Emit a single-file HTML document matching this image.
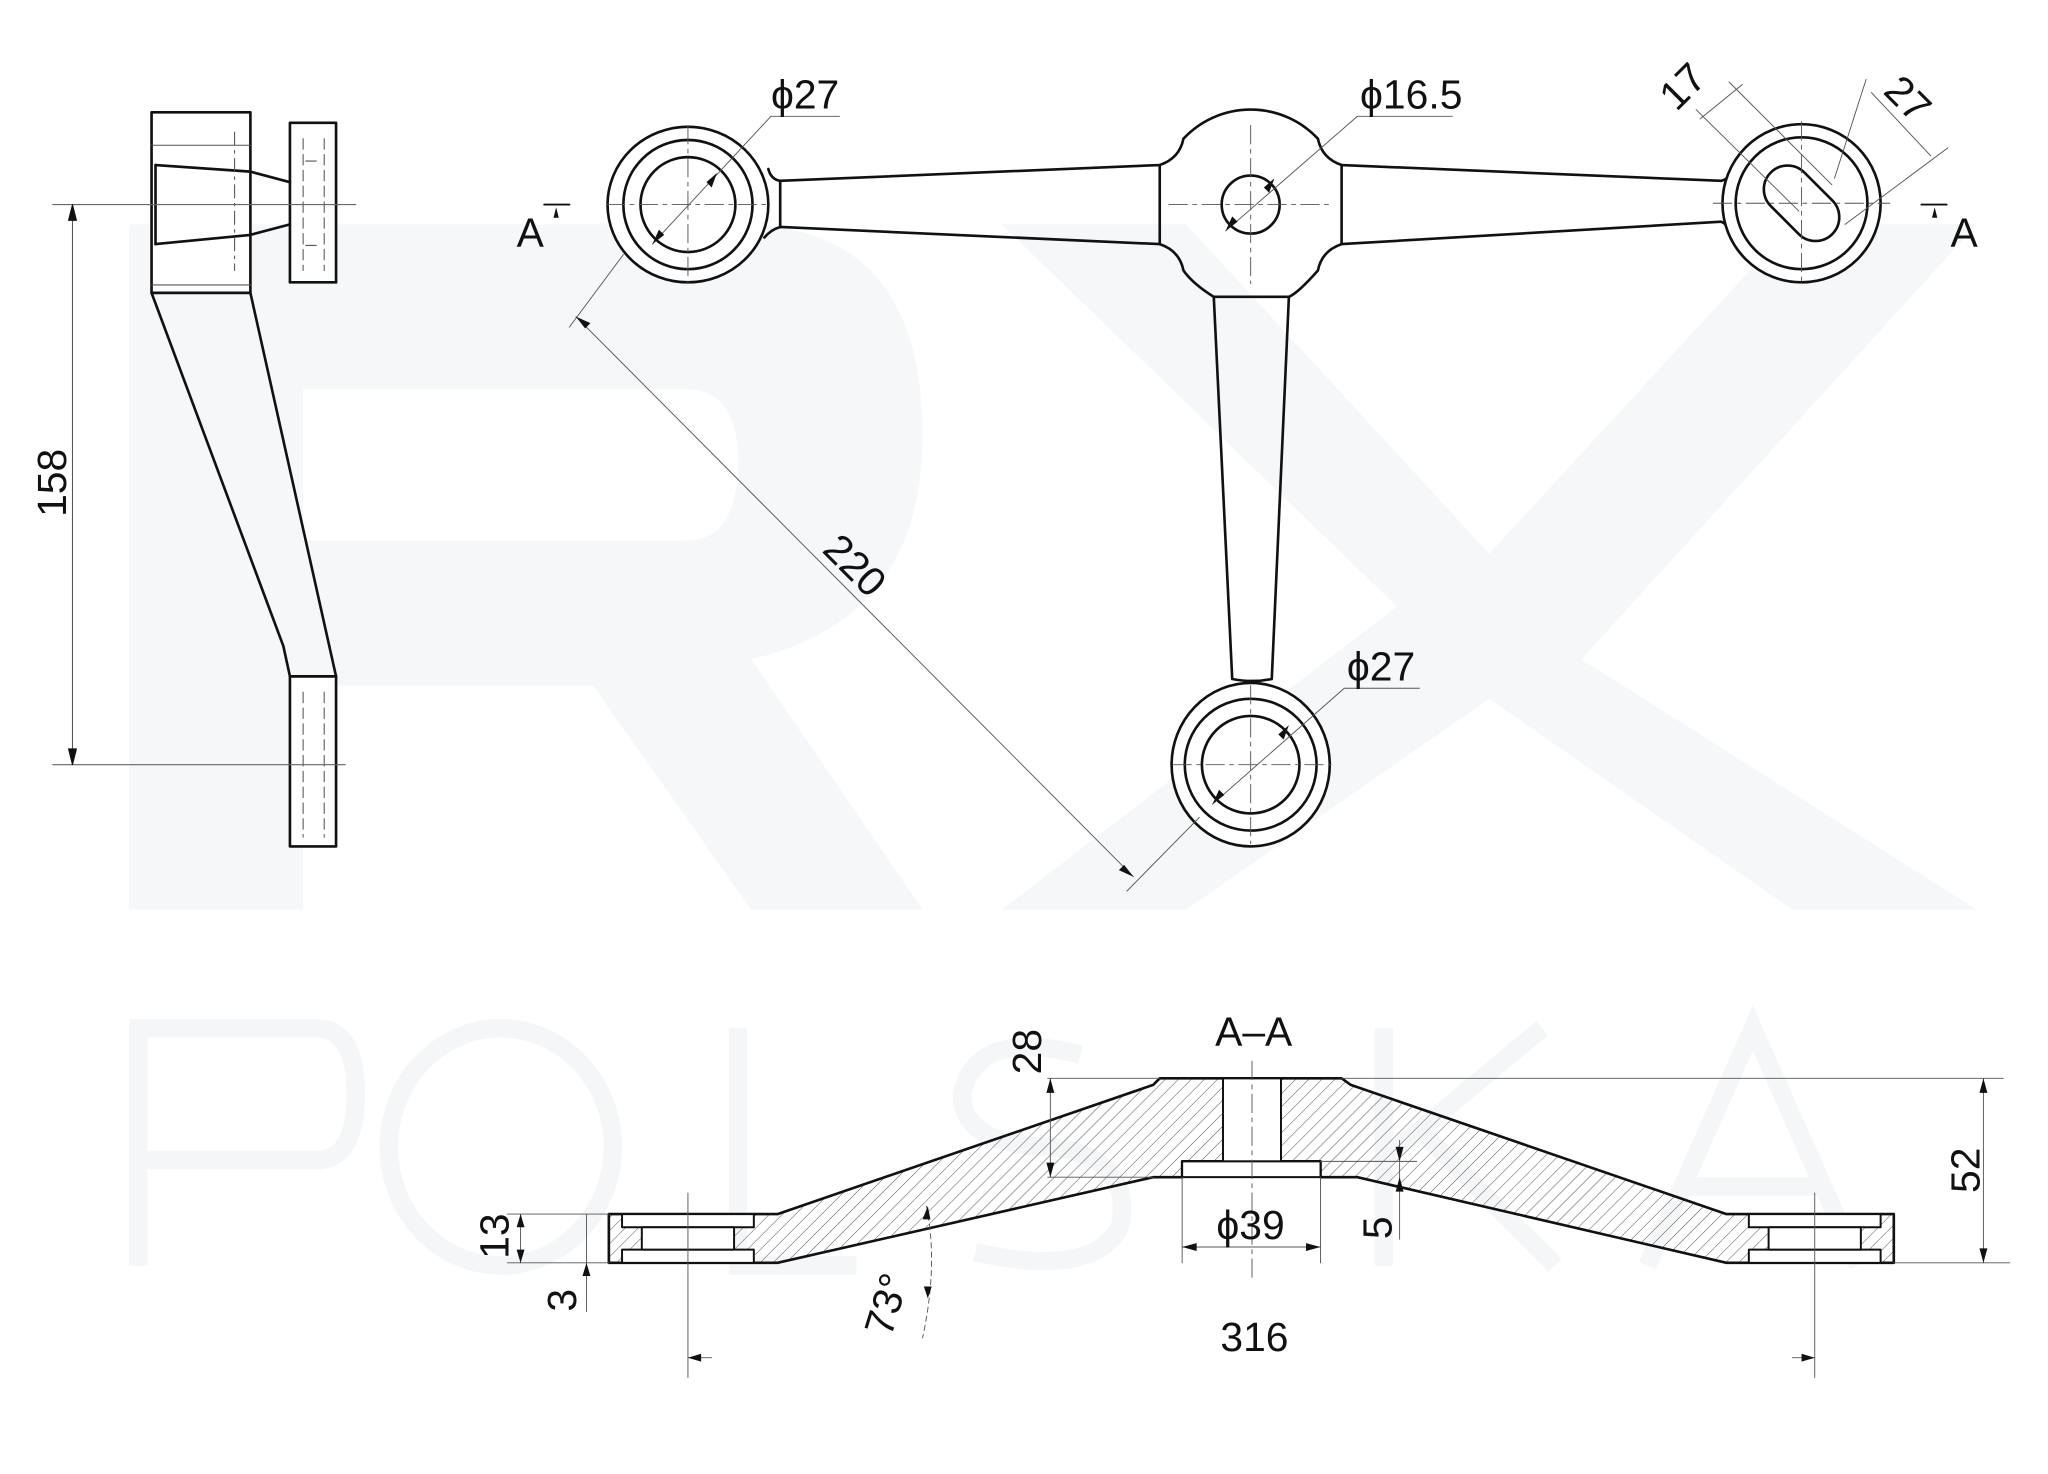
<!DOCTYPE html>
<html><head><meta charset="utf-8"><style>
html,body{margin:0;padding:0;background:#fff;}
svg{display:block;}
text{font-family:"Liberation Sans",sans-serif;fill:#111;}
</style></head><body>
<svg width="2048" height="1474" viewBox="0 0 1554 1118" xmlns="http://www.w3.org/2000/svg">
<defs>
<pattern id="h" patternUnits="userSpaceOnUse" width="7" height="7" patternTransform="rotate(45)">
<line x1="0" y1="0" x2="0" y2="7" stroke="#444" stroke-width="0.7"/>
</pattern>
</defs>
<!-- watermark -->
<g fill="#f6f7f9">
<path d="M98,170 L560,170 Q700,170 700,330 Q700,470 570,500 L700,690 L570,690 L450,520 L230,520 L230,690 L98,690 Z M230,295 L230,410 L520,410 Q560,410 560,350 Q560,295 520,295 Z"/>
<path d="M760,170 L900,170 L1130,420 L1360,170 L1500,170 L1200,500 L1500,690 L1360,690 L1130,530 L900,690 L760,690 L1060,460 Z"/>
</g>
<g fill="none" stroke="#f5f6f8" stroke-width="14">
<path d="M105,960 L105,780 L240,780 Q270,780 270,830 Q270,880 240,880 L105,880"/>
<ellipse cx="380" cy="870" rx="85" ry="90"/>
<path d="M560,780 L560,960 L650,960"/>
<path d="M820,800 Q740,780 730,830 Q730,870 800,870 Q860,880 850,930 Q830,970 740,950"/>
<path d="M1050,780 L1050,960 M1050,880 L1170,780 M1080,860 L1180,960"/>
<path d="M1250,960 L1330,780 L1410,960 M1280,900 L1380,900"/>
</g>

<g stroke="#111" fill="none" stroke-linecap="round" stroke-linejoin="round">
<!-- ===== side view ===== -->
<g stroke-width="2">
<rect x="115" y="85" width="75" height="137" fill="#fff"/>
<rect x="220" y="93" width="35" height="121" fill="#fff"/>
<path d="M115,222 L215,490 L220,513 M190,222 L255,513"/>
<rect x="220" y="513" width="35" height="129" fill="#fff"/>
<path d="M118,125 L190,130 L220,138 M118,185 L190,178 L220,170"/>
<line x1="118" y1="125" x2="118" y2="185"/>
</g>
<g stroke-width="0.8" stroke="#555">
<line x1="115" y1="110" x2="190" y2="110"/><line x1="115" y1="216" x2="190" y2="216"/>
<path d="M178,100 L178,205" stroke-dasharray="10 4 2 4"/>
<path d="M230,105 L230,205 M246,105 L246,205 M232,122 L244,122 M232,186 L244,186" stroke-dasharray="8 4"/>
<path d="M230,525 L230,635 M246,525 L246,635" stroke-dasharray="8 4"/>
<path d="M40,155 L270,155 M40,580 L262,580" stroke="#666"/>
<line x1="55" y1="155" x2="55" y2="580"/>
</g>
<path d="M55,155 l-3,12 l6,0 Z M55,580 l-3,-12 l6,0 Z" fill="#111" stroke-width="0.8"/>

<!-- ===== top view ===== -->
<g stroke-width="2">
<path d="M592,137 L880,125 Q895,120 898,105 A70,70 0 0 1 1000,105 Q1003,120 1018,125 L1306,137 Q1312,136 1318,125
 M1318,184 Q1312,170 1306,168 L1018,185 Q1003,190 1000,205 Q985,222 978,225 L965,515 Q950,518 935,515 L921,225 Q905,215 898,205 Q895,190 880,185 L592,172 Q585,174 580,180
 M583,128 Q585,136 592,137"/>
<line x1="592" y1="137" x2="592" y2="172"/>
<line x1="880" y1="125" x2="880" y2="185"/><line x1="1018" y1="125" x2="1018" y2="185"/>
<line x1="1310" y1="137" x2="1310" y2="168"/><line x1="921" y1="225" x2="978" y2="225"/>
<ellipse cx="522" cy="155" rx="61" ry="59" fill="#fff"/>
<circle cx="522" cy="155" r="49"/><circle cx="522" cy="155" r="36"/>
<circle cx="949" cy="155" r="22"/>
<ellipse cx="949" cy="580" rx="60" ry="62" fill="#fff"/>
<circle cx="949" cy="580" r="50"/><circle cx="949" cy="580" r="37"/>
<circle cx="1367" cy="154" r="60" fill="#fff"/>
<circle cx="1367" cy="154" r="50"/>
<rect x="1334" y="136" width="66" height="36" rx="18" transform="rotate(45 1367 154)"/>
</g>
<g stroke-width="0.7" stroke="#555">
<path d="M460,155 L585,155 M522,95 L522,215 M887,155 L1012,155 M949,95 L949,215 M890,580 L1010,580 M949,520 L949,640 M1300,154 L1434,154 M1367,92 L1367,216" stroke-dasharray="14 4 3 4"/>
<line x1="495" y1="185" x2="585" y2="88"/><line x1="585" y1="88" x2="637" y2="88"/>
<line x1="930" y1="175" x2="1030" y2="88"/><line x1="1030" y1="88" x2="1102" y2="88"/>
<line x1="920" y1="610" x2="1020" y2="522"/><line x1="1020" y1="522" x2="1077" y2="522"/>
<line x1="473" y1="193" x2="432" y2="248"/><line x1="910" y1="620" x2="855" y2="676"/>
<line x1="437" y1="240" x2="860" y2="665"/>
<line x1="1287" y1="83" x2="1365" y2="160"/><line x1="1312" y1="62" x2="1390" y2="140"/>
<line x1="1290" y1="90" x2="1322" y2="64"/>
<line x1="1392" y1="135" x2="1416" y2="60"/><line x1="1400" y1="170" x2="1478" y2="112"/>
<line x1="1420" y1="70" x2="1465" y2="118"/>
</g>
<g fill="#111" stroke="none">
<path d="M495,185 l5,-11 l4,4 Z M544,131 l-4,11 l-4,-4 Z M930,175 l5,-11 l4,4 Z M967,135 l-4,11 l-4,-4 Z M920,610 l5,-11 l4,4 Z M978,550 l-4,11 l-4,-4 Z M437,240 l11,5 l-4,4 Z M860,665 l-11,-5 l4,-4 Z"/>
</g>
<g stroke-width="1.5"><line x1="413" y1="155" x2="432" y2="155"/><line x1="1458" y1="155" x2="1477" y2="155"/></g>
<path d="M422,157 l-2,8 l4,0 Z M1468,157 l-2,8 l4,0 Z" fill="#111" stroke="none"/>

<!-- ===== section A-A ===== -->
<path d="M462,921 L590,921 L875,823 L880,818 L1018,818 L1025,823 L1310,921 L1437,921 L1437,958 L1310,958 L1030,893 L1002,893 L1002,881 L897,881 L897,893 L875,893 L590,958 L462,958 Z" fill="url(#h)" stroke-width="2"/>
<rect x="928" y="818" width="44" height="63" fill="#fff" stroke-width="1.5"/>
<rect x="897" y="881" width="105" height="12" fill="#fff" stroke-width="1.5"/>
<g fill="#fff" stroke-width="1.5">
<rect x="472" y="921" width="100" height="10"/><rect x="472" y="948" width="100" height="10"/><rect x="487" y="931" width="70" height="17"/>
<rect x="1327" y="921" width="100" height="10"/><rect x="1327" y="948" width="100" height="10"/><rect x="1342" y="931" width="70" height="17"/>
</g>
<g stroke-width="0.7" stroke="#555">
<line x1="950" y1="805" x2="950" y2="970" stroke-dasharray="14 4 3 4"/>
<line x1="1018" y1="818" x2="1520" y2="818"/><line x1="795" y1="818" x2="880" y2="818"/>
<line x1="795" y1="893" x2="875" y2="893"/>
<line x1="797" y1="818" x2="797" y2="893"/>
<line x1="1505" y1="818" x2="1505" y2="958"/><line x1="1437" y1="958" x2="1525" y2="958"/>
<line x1="897" y1="893" x2="897" y2="958"/><line x1="1002" y1="893" x2="1002" y2="958"/>
<line x1="897" y1="946" x2="1002" y2="946"/>
<line x1="1002" y1="881" x2="1075" y2="881"/><line x1="1062" y1="865" x2="1062" y2="940"/>
<line x1="385" y1="921" x2="462" y2="921"/><line x1="385" y1="958" x2="462" y2="958"/>
<line x1="395" y1="921" x2="395" y2="958"/><line x1="445" y1="921" x2="445" y2="995"/>
<line x1="522" y1="905" x2="522" y2="1045"/><line x1="1377" y1="905" x2="1377" y2="1045"/>
<line x1="522" y1="1030" x2="540" y2="1030"/><line x1="1360" y1="1030" x2="1377" y2="1030"/>
<path d="M703,915 Q712,960 700,1015" stroke-dasharray="4 3"/>
</g>
<g fill="#111" stroke="none">
<path d="M797,818 l-3,11 l6,0 Z M797,893 l-3,-11 l6,0 Z M1505,818 l-3,11 l6,0 Z M1505,958 l-3,-11 l6,0 Z M897,946 l11,-3 l0,6 Z M1002,946 l-11,-3 l0,6 Z M1062,881 l-3,-11 l6,0 Z M1062,893 l-3,11 l6,0 Z M395,921 l-3,10 l6,0 Z M395,958 l-3,-10 l6,0 Z M445,958 l-3,10 l6,0 Z M522,1030 l10,-3 l0,6 Z M1377,1030 l-10,-3 l0,6 Z M704,915 l-4,10 l6,0 Z M704,985 l-3,-9 l6,0 Z"/>
</g>
</g>

<g font-size="31">
<text x="585" y="82">ϕ27</text>
<text x="1032" y="82">ϕ16.5</text>
<text x="1022" y="516">ϕ27</text>
<text x="392" y="187">A</text>
<text x="1480" y="187">A</text>
<text x="922" y="793">A–A</text>
<text x="923" y="940">ϕ39</text>
<text x="926" y="1025">316</text>
<text transform="translate(50,392) rotate(-90)">158</text>
<text transform="translate(790,815) rotate(-90)">28</text>
<text transform="translate(1502,905) rotate(-90)">52</text>
<text transform="translate(1056,940) rotate(-90)">5</text>
<text transform="translate(386,955) rotate(-90)">13</text>
<text transform="translate(437,995) rotate(-90)">3</text>
<text transform="translate(623,418) rotate(45)">220</text>
<text transform="translate(1272,85) rotate(-45)">17</text>
<text transform="translate(1428,70) rotate(45)">27</text>
<text transform="translate(676,1015) rotate(-73)">73°</text>
</g>
</svg>
</body></html>
